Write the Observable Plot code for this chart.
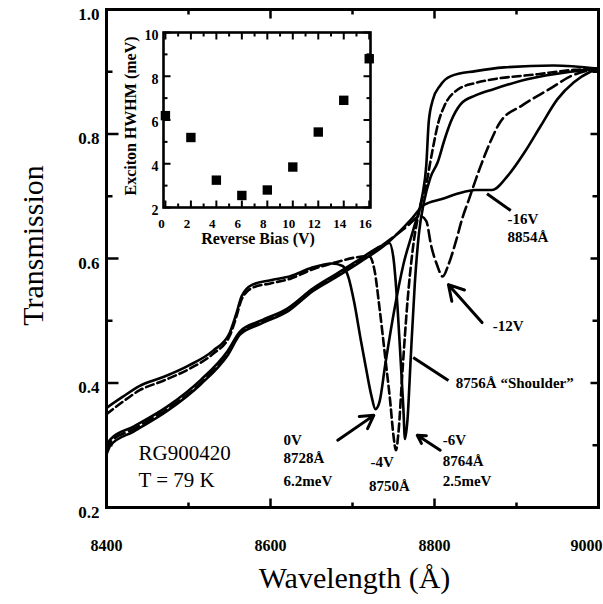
<!DOCTYPE html>
<html><head><meta charset="utf-8">
<script src="https://cdn.jsdelivr.net/npm/d3@7"></script>
<script src="https://cdn.jsdelivr.net/npm/@observablehq/plot@0.6"></script>
<style>
body{margin:0;background:#fff;}
#wrap{position:relative;width:603px;height:604px;overflow:hidden;background:#fff;}
#wrap svg{position:absolute;left:0;top:0;}
</style></head><body><div id="wrap"></div>
<script>
// ---- main chart data (wavelength Å, transmission) ----
const curve0V = [[8400,.36],[8420,.378],[8440,.395],[8470,.41],[8500,.428],[8530,.452],[8550,.48],[8558,.51],[8565,.54],[8578,.558],[8600,.565],[8625,.572],[8650,.585],[8675,.592],[8688,.588],[8695,.57],[8702,.53],[8710,.47],[8717,.42],[8723,.38],[8728,.358],[8733,.37],[8740,.43],[8750,.51],[8762,.59],[8775,.65],[8785,.70],[8790,.75],[8793,.82],[8798,.855],[8807,.878],[8820,.893],[8850,.901],[8885,.907],[8945,.91],[9000,.905]];
const curve4V = [[8400,.35],[8420,.37],[8440,.388],[8470,.404],[8500,.422],[8530,.447],[8550,.475],[8558,.505],[8565,.535],[8578,.553],[8600,.56],[8625,.568],[8650,.582],[8680,.594],[8705,.602],[8720,.604],[8727,.58],[8733,.52],[8740,.44],[8746,.37],[8750,.315],[8753,.292],[8756,.32],[8761,.42],[8767,.53],[8774,.62],[8782,.68],[8790,.72],[8797,.77],[8805,.82],[8812,.845],[8828,.871],[8850,.882],[8872,.888],[8926,.896],[8970,.903],[9000,.905]];
const curve6V = [[8400,.30],[8405,.31],[8433,.33],[8474,.362],[8515,.405],[8548,.452],[8563,.483],[8588,.50],[8621,.52],[8652,.552],[8680,.575],[8710,.60],[8735,.62],[8745,.625],[8750,.60],[8755,.52],[8759,.43],[8762,.36],[8764,.31],[8767,.34],[8771,.44],[8776,.56],[8781,.64],[8787,.69],[8795,.73],[8804,.755],[8812,.79],[8820,.82],[8832,.848],[8850,.862],[8872,.872],[8913,.888],[8966,.90],[9000,.905]];
const curve12V = [[8400,.29],[8405,.305],[8433,.326],[8474,.358],[8515,.40],[8548,.448],[8563,.48],[8588,.497],[8621,.517],[8652,.55],[8680,.572],[8710,.598],[8740,.625],[8765,.65],[8783,.668],[8790,.66],[8796,.62],[8803,.59],[8810,.571],[8817,.59],[8826,.627],[8834,.665],[8842,.695],[8855,.744],[8868,.787],[8880,.819],[8907,.846],[8940,.872],[8968,.894],[9000,.905]];
const curve16V = [[8400,.285],[8405,.30],[8433,.322],[8474,.355],[8515,.398],[8548,.445],[8563,.478],[8588,.495],[8621,.515],[8652,.548],[8680,.57],[8710,.595],[8740,.622],[8771,.662],[8787,.686],[8810,.696],[8830,.705],[8850,.71],[8870,.71],[8890,.734],[8910,.771],[8930,.814],[8950,.856],[8970,.883],[8990,.9],[9000,.905]];

const xTickLabels = [8400, 8600, 8800];
const xLastLabel = [9000];
const xMajorTicks = [8400, 8600, 8800, 9000];
const xMinorTicks = [8500, 8700, 8900];
const yTickLabels = [0.2, 0.4, 0.6, 0.8, 1.0];
const yMinorTicks = [0.3, 0.5, 0.7, 0.9];

// annotations (data coordinates)
const annoText = ["-16V","8854Å","-12V","8756Å \u201CShoulder\u201D","-6V","8764Å","2.5meV","-4V","8750Å","0V","8728Å","6.2meV"];
const annoWl   = [8889,8889,8871,8826,8810,8810,8810,8722,8720,8616,8616,8616];
const annoT    = [0.663,0.634,0.492,0.399,0.308,0.274,0.243,0.272,0.234,0.308,0.28,0.243];
const sampleText = ["RG900420", "T = 79 K"];
const sampleWl = [8439, 8439];
const sampleT = [0.287, 0.243];
// arrows: [wl1, t1, wl2, t2]
const arrowsHead = [[8682,0.308,8726,0.348],[8807,0.292,8779,0.316],[8858,0.497,8817,0.558]];
const arrowsPlain = [[8864,0.704,8893,0.677],[8817,0.404,8774,0.441]];

// ---- inset data ----
const biasV = [0, 2, 4, 6, 8, 10, 12, 14, 16];
const hwhm = [6.2, 5.2, 3.25, 2.55, 2.8, 3.85, 5.45, 6.9, 8.8];
const insetXLabels = [0, 2, 4, 6, 8, 10, 12, 14, 16];
const insetYLabels = [2, 4, 6, 8, 10];

const FONT = "Liberation Serif, Times New Roman, serif";
const W = 603, H = 604, mL = 106, mR = 5, mT = 9, mB = 97;
const X0 = 8400, X1 = 9000, Y0 = 0.2, Y1 = 1.0;
const dxPx = (X1 - X0) / (W - mL - mR);
const dyPx = (Y1 - Y0) / (H - mT - mB);

function vTicks(vals, y0, dir, len) {
  return Plot.link(vals, {x1: d => d, x2: d => d, y1: y0, y2: y0 + dir * len * dyPx, stroke: "black", strokeWidth: 2.5});
}
function hTicks(vals, x0, dir, len) {
  return Plot.link(vals, {y1: d => d, y2: d => d, x1: x0, x2: x0 + dir * len * dxPx, stroke: "black", strokeWidth: 2.5});
}
const lineOpts = {x: d => d[0], y: d => d[1], curve: "monotone-x", stroke: "black", strokeWidth: 2.6, strokeLinejoin: "round"};

const main = Plot.plot({
  width: W, height: H, marginLeft: mL, marginRight: mR, marginTop: mT, marginBottom: mB,
  x: {domain: [X0, X1], axis: null},
  y: {domain: [Y0, Y1], axis: null},
  style: {fontFamily: FONT, background: "transparent", overflow: "visible"},
  marks: [
    Plot.line(curve0V, lineOpts),
    Plot.line(curve4V, {...lineOpts, strokeDasharray: "8,4"}),
    Plot.line(curve6V, lineOpts),
    Plot.line(curve12V, {...lineOpts, strokeDasharray: "11,5"}),
    Plot.line(curve16V, lineOpts),
    Plot.frame({stroke: "black", strokeWidth: 3}),
    vTicks(xMajorTicks, Y0, 1, 9), vTicks(xMinorTicks, Y0, 1, 5),
    vTicks(xMajorTicks, Y1, -1, 9), vTicks(xMinorTicks, Y1, -1, 5),
    hTicks(yTickLabels, X0, 1, 12), hTicks(yMinorTicks, X0, 1, 6),
    hTicks(yTickLabels, X1, -1, 8), hTicks(yMinorTicks, X1, -1, 6),
    Plot.text(xTickLabels, {x: d => d, y: Y0, dy: 38, text: d => String(d), fontSize: 16, fontWeight: "bold", textAnchor: "middle"}),
    Plot.text(xLastLabel, {x: d => d, y: Y0, dy: 38, dx: 4, text: d => String(d), fontSize: 16, fontWeight: "bold", textAnchor: "end"}),
    Plot.text(yTickLabels, {x: X0, y: d => d, dx: -7, dy: 5, text: d => d.toFixed(1), fontSize: 17, fontWeight: "bold", textAnchor: "end"}),
    Plot.text(["Transmission"], {frameAnchor: "left", dx: -73, dy: -13, rotate: -90, fontSize: 30, textAnchor: "middle"}),
    Plot.text(["Wavelength (Å)"], {frameAnchor: "bottom", dx: 2, dy: 80, fontSize: 30, textAnchor: "middle"}),
    Plot.text(annoText, {x: (d, i) => annoWl[i], y: (d, i) => annoT[i], text: d => d, fontSize: 15, fontWeight: "bold", textAnchor: "start"}),
    Plot.text(sampleText, {x: (d, i) => sampleWl[i], y: (d, i) => sampleT[i], text: d => d, fontSize: 21, textAnchor: "start"}),
    Plot.arrow(arrowsHead, {x1: d => d[0], y1: d => d[1], x2: d => d[2], y2: d => d[3], stroke: "black", strokeWidth: 3, headLength: 11}),
    Plot.link(arrowsPlain, {x1: d => d[0], y1: d => d[1], x2: d => d[2], y2: d => d[3], stroke: "black", strokeWidth: 3})
  ]
});

// ---- inset ----
const iW = 270, iH = 240, iL = 53, iR = 10, iT = 12, iB = 53;
const IX0 = -0.15, IX1 = 16.1, IY0 = 2, IY1 = 10;
const ixPx = (IX1 - IX0) / (iW - iL - iR);
const iyPx = (IY1 - IY0) / (iH - iT - iB);
const allX = d3.range(0, 17, 1);
const allY = d3.range(2, 11, 1);
function ivTicks(vals, y0, dir, len) {
  return Plot.link(vals, {x1: d => d, x2: d => d, y1: y0, y2: y0 + dir * len * iyPx, stroke: "black", strokeWidth: 2});
}
function ihTicks(vals, x0, dir, len) {
  return Plot.link(vals, {y1: d => d, y2: d => d, x1: x0, x2: x0 + dir * len * ixPx, stroke: "black", strokeWidth: 2});
}
const even = v => v % 2 === 0;
const inset = Plot.plot({
  width: iW, height: iH, marginLeft: iL, marginRight: iR, marginTop: iT, marginBottom: iB,
  x: {domain: [IX0, IX1], axis: null},
  y: {domain: [IY0, IY1], axis: null},
  style: {fontFamily: FONT, background: "transparent", overflow: "visible"},
  marks: [
    Plot.frame({stroke: "black", strokeWidth: 2.6}),
    ivTicks(allX.filter(even), IY0, 1, 7), ivTicks(allX.filter(v => !even(v)), IY0, 1, 4),
    ivTicks(allX.filter(even), IY1, -1, 7), ivTicks(allX.filter(v => !even(v)), IY1, -1, 4),
    ihTicks(allY.filter(even), IX0, 1, 7), ihTicks(allY.filter(v => !even(v)), IX0, 1, 4),
    ihTicks(allY.filter(even), IX1, -1, 7), ihTicks(allY.filter(v => !even(v)), IX1, -1, 4),
    Plot.dot(biasV, {x: d => d, y: (d, i) => hwhm[i], symbol: "square", r: 5.3, fill: "black"}),
    Plot.text(insetXLabels, {x: d => d, y: IY0, dx: -4, dy: 16, text: d => String(d), fontSize: 13, fontWeight: "bold"}),
    Plot.text(insetYLabels, {x: IX0, y: d => d, dx: -5, dy: 3, text: d => String(d), fontSize: 14, fontWeight: "bold", textAnchor: "end"}),
    Plot.text(["Reverse Bias (V)"], {frameAnchor: "bottom", dx: -9, dy: 36, fontSize: 16, fontWeight: "bold", textAnchor: "middle"}),
    Plot.text(["Exciton HWHM (meV)"], {frameAnchor: "left", dx: -33, dy: -4, rotate: -90, fontSize: 16, fontWeight: "bold", textAnchor: "middle"})
  ]
});
const wrap = document.getElementById("wrap");
wrap.appendChild(main);
inset.style.left = "110px";
inset.style.top = "20px";
wrap.appendChild(inset);
</script></body></html>
